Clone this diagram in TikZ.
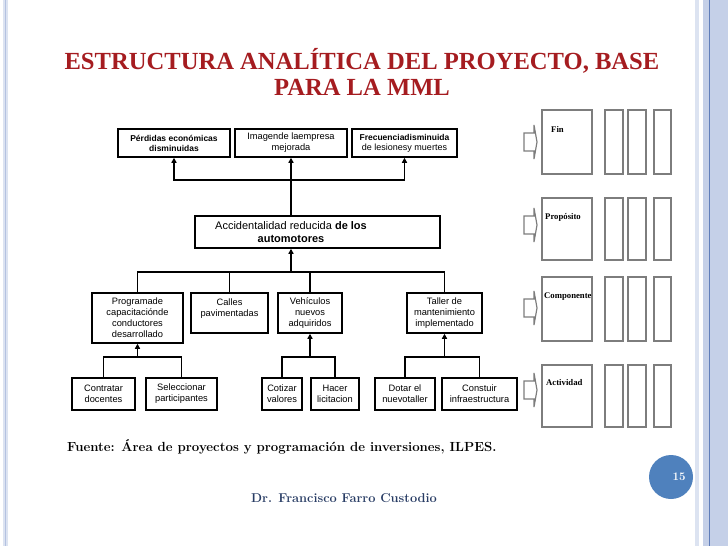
\documentclass[tikz,border=0pt]{standalone}
\usepackage{fontspec}
\newfontfamily\titlefont{Liberation Serif}
\newfontfamily\diagfont{Liberation Sans}
\usetikzlibrary{arrows.meta}

\definecolor{titlered}{RGB}{165,28,32}
\definecolor{bandblue}{RGB}{197,208,232}
\definecolor{bandline}{RGB}{95,125,185}
\definecolor{pageblue}{RGB}{79,129,189}
\definecolor{authorblue}{RGB}{40,60,100}
\definecolor{mlgray}{RGB}{125,125,125}

\tikzset{
  box/.style={draw=black, line width=1.5pt, align=center, inner sep=1pt,
    font=\diagfont\fontsize{9.3}{11}\selectfont},
  boxtext/.style={align=center, inner sep=0pt, font=\diagfont\fontsize{11}{12.5}\selectfont},
  link/.style={line width=1.5pt},
  up/.style={link, -{Triangle[length=5pt,width=5pt]}},
  mlbox/.style={draw=mlgray, line width=1.2pt},
  mltext/.style={font=\titlefont\fontsize{8.7}{9}\selectfont\bfseries, inner sep=0pt, anchor=west}
}

\begin{document}
\begin{tikzpicture}[x=1pt,y=-1pt]
\useasboundingbox (0,0) rectangle (728,546);

% slide frame
\fill[bandblue!60] (3,0) rectangle (8,546);
\draw[bandblue!130, line width=1pt] (5.5,0) -- (5.5,546);
\fill[bandblue!60] (695,0) rectangle (699,546);
\fill[bandblue] (703,0) rectangle (728,546);
\draw[bandline, line width=0.8pt] (709,0) -- (709,546);

\node[font=\titlefont\bfseries\fontsize{24.6}{26}\selectfont, text=titlered, align=center] (title) at (362,72) {ESTRUCTURA ANALÍTICA DEL PROYECTO, BASE\\PARA LA MML};

% fines
\node[box, minimum width=112, minimum height=28, font=\diagfont\fontsize{8.5}{10}\selectfont] (perdidas) at (174,143) {\textbf{Pérdidas económicas}\\\textbf{disminuidas}};
\node[box, minimum width=112, minimum height=28] (imagen) at (291,143) {Imagende laempresa\\mejorada};
\node[box, minimum width=105, minimum height=28, font=\diagfont\fontsize{8.5}{10}\selectfont] (frecuencia) at (404.5,143) {\textbf{Frecuenciadisminuida}\\{\fontsize{9}{10}\selectfont de lesionesy muertes}};

% proposito
\node[box, minimum width=245, minimum height=32] (acc) at (317.5,232) {};
\node[boxtext] (acctext) at (291,232) {Accidentalidad reducida \textbf{de los}\\\textbf{automotores}};

% componentes
\node[box, minimum width=91, minimum height=50] (programa) at (137.5,318) {Programade\\capacitaciónde\\conductores\\desarrollado};
\node[box, minimum width=77, minimum height=40] (calles) at (229.5,313) {Calles\\pavimentadas\\\mbox{}};
\node[box, minimum width=64, minimum height=40] (vehiculos) at (310,313) {Vehículos\\nuevos\\adquiridos};
\node[box, minimum width=75, minimum height=40] (taller) at (444.5,313) {Taller de\\mantenimiento\\implementado};

% actividades
\node[box, minimum width=63, minimum height=32] (contratar) at (103.5,394) {Contratar\\docentes};
\node[box, minimum width=71, minimum height=32] (seleccionar) at (181.5,394) {Seleccionar\\participantes};
\node[box, minimum width=40, minimum height=32] (cotizar) at (282,394) {Cotizar\\valores};
\node[box, minimum width=48, minimum height=32] (hacer) at (335,394) {Hacer\\licitacion};
\node[box, minimum width=60, minimum height=32] (dotar) at (405,394) {Dotar el\\nuevotaller};
\node[box, minimum width=75, minimum height=32] (construir) at (479.5,394) {Constuir\\infraestructura};

% conectores
\coordinate (topbar) at (291,180);
\draw[up] (imagen.south |- acc.north) -- (imagen.south);
\draw[up] (topbar) -| (perdidas.south);
\draw[up] (topbar) -| (frecuencia.south);

\coordinate (lowbar) at (291,272);
\draw[up] (lowbar) -- (lowbar |- acc.south);
\draw[link] (lowbar) -| (programa.north);
\draw[link] (lowbar) -| (calles.north);
\draw[link] (lowbar) -| (vehiculos.north);
\draw[link] (lowbar) -| (taller.north);

\coordinate (progbar) at (137.5,357);
\draw[up] (progbar) -- (programa.south);
\draw[link] (progbar) -| (contratar.north);
\draw[link] (progbar) -| (seleccionar.north);

\coordinate (vehbar) at (310,357);
\draw[up] (vehbar) -- (vehiculos.south);
\draw[link] (vehbar) -| (cotizar.north);
\draw[link] (vehbar) -| (hacer.north);

\coordinate (tallbar) at (444.5,357);
\draw[up] (tallbar) -- (taller.south);
\draw[link] (tallbar) -| (dotar.north);
\draw[link] (tallbar) -| (construir.north);

% matriz de marco logico
\foreach \ya/\yb/\ym/\lx/\ly/\lbl in {110/174/142/551/129/Fin, 198/260/225/545/217/Propósito, 277/341/308/544/297/Componente, 365/427/390/546/383/Actividad} {
  \draw[mlbox] (524,\ym-9) -- (534,\ym-9) -- (534,\ym-17) -- (537,\ym) -- (534,\ym+17) -- (534,\ym+9) -- (524,\ym+9) -- cycle;
  \draw[mlbox] (542,\ya) rectangle (592,\yb);
  \draw[mlbox] (605,\ya) rectangle (623,\yb);
  \draw[mlbox] (628,\ya) rectangle (646,\yb);
  \draw[mlbox] (654,\ya) rectangle (671,\yb);
  \node[mltext] at (\lx,\ly) {\lbl};
}

\node[font=\bfseries\fontsize{13.2}{15}\selectfont, anchor=west, inner sep=0pt] (fuente) at (67,447) {Fuente: Área de proyectos y programación de inversiones, ILPES.};
\node[font=\bfseries\fontsize{12.8}{14}\selectfont, text=authorblue] (autor) at (344,498) {Dr. Francisco Farro Custodio};
\node[circle, fill=pageblue, minimum size=44] (pagina) at (671,477) {};
\node[font=\bfseries\fontsize{11.5}{12}\selectfont, text=white] (numero) at ([xshift=8]pagina.center) {15};
\end{tikzpicture}
\end{document}
